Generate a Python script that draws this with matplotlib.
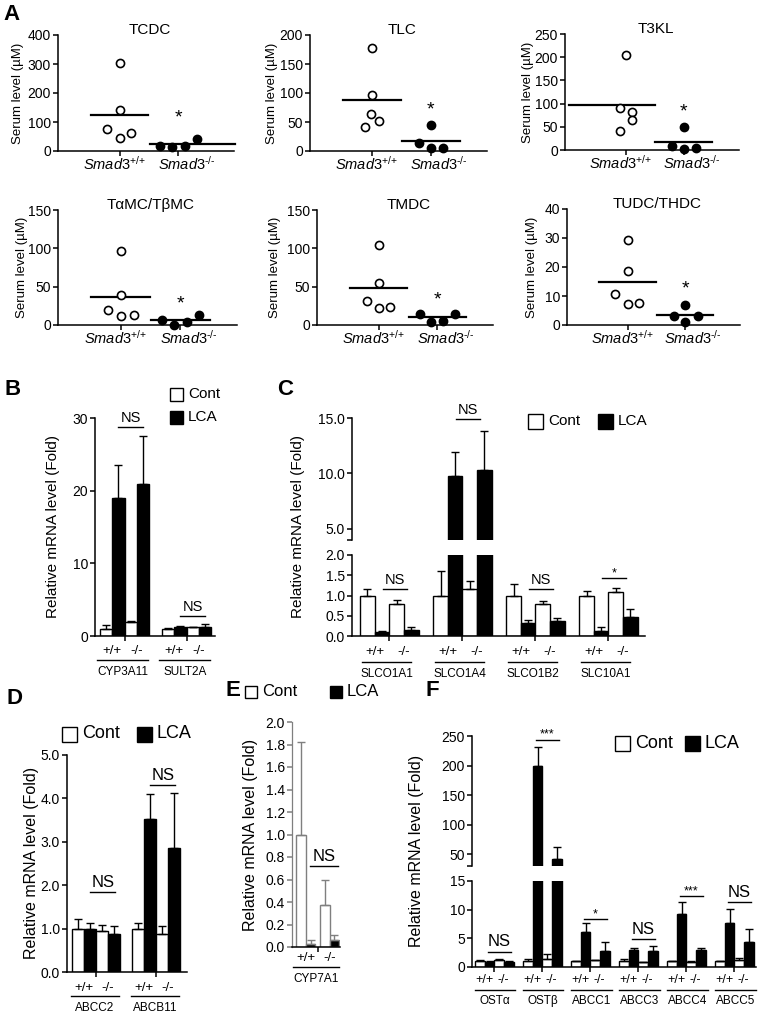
import numpy as np
import matplotlib
matplotlib.use('Agg')
import matplotlib.pyplot as plt
from matplotlib.patches import Rectangle
from matplotlib.ticker import FormatStrFormatter

plt.rcParams['font.family'] = ['Liberation Sans', 'DejaVu Sans']
plt.rcParams['mathtext.fontset'] = 'custom'
plt.rcParams['mathtext.rm'] = 'Liberation Sans'
plt.rcParams['mathtext.it'] = 'Liberation Sans:italic'
plt.rcParams['axes.linewidth'] = 1.1
plt.rcParams['xtick.major.width'] = 1.1
plt.rcParams['ytick.major.width'] = 1.1
plt.rcParams['xtick.major.size'] = 3.5
plt.rcParams['ytick.major.size'] = 3.5
plt.rcParams['xtick.minor.width'] = 1.1
plt.rcParams['ytick.minor.width'] = 1.1
plt.rcParams['ytick.minor.size'] = 3.5

# ---------------- data ----------------
# A: serum bile acids (uM), Smad3+/+ (open) vs Smad3-/- (filled)
a_names = ['TCDC', 'TLC', 'T3KL', 'T\u03b1MC/T\u03b2MC', 'TMDC', 'TUDC/THDC']
a_wt = [[305, 141, 75, 46, 61], [178, 97, 64, 41, 51], [204, 90, 81, 64, 40],
        [97, 39, 19, 12, 13], [104, 55, 31, 22, 23], [29.2, 18.5, 10.8, 7.4, 7.6]]
a_ko = [[17, 13, 17, 43], [45, 13, 6, 6], [50, 9, 2, 4],
        [6, 0.5, 3.5, 12.6], [14, 3.5, 5.6, 14.7], [7, 3, 3, 1]]
a_wt_mean = [124, 88, 96, 36, 48, 14.7]
a_ko_mean = [23, 17, 17, 6, 10, 3.6]
a_ymax = [400, 200, 250, 150, 150, 40]
a_ystep = [100, 50, 50, 50, 50, 10]
a_star = [113, 70, 81, 28, 33, 12.4]
a_groups = ['$\\mathit{Smad3}^{\\text{+/+}}$', '$\\mathit{Smad3}^{\\text{-/-}}$']
# horizontal scatter offsets of the points (layout only)
a_wt_dx = [[0, 0, -0.21, 0, 0.2], [0, 0, -0.02, -0.12, 0.12], [0, -0.1, 0.1, 0.1, -0.1],
           [0, 0, -0.21, 0, 0.22], [0, 0, -0.2, 0, 0.2], [0, 0, -0.21, 0, 0.2]]
a_ko_dx = [[-0.31, -0.1, 0.12, 0.32], [0, -0.2, 0, 0.2], [0, -0.2, 0, 0.2],
           [-0.3, -0.1, 0.11, 0.32], [-0.3, -0.1, 0.1, 0.3], [0, -0.2, 0.23, 0]]

# bar panels: order per gene = WT Cont, WT LCA, KO Cont, KO LCA
b_genes = ['CYP3A11', 'SULT2A']
b_mean = [[1.0, 19.0, 1.93, 20.96], [1.0, 1.3, 1.2, 1.2]]
b_err = [[0.56, 4.6, 0.13, 6.5], [0.1, 0.1, 0.05, 0.4]]
b_sig = ['NS', 'NS']
b_sig_y = [28.7, 2.75]

c_genes = ['SLCO1A1', 'SLCO1A4', 'SLCO1B2', 'SLC10A1']
c_mean = [[0.99, 0.1, 0.79, 0.16], [1.0, 9.8, 1.15, 10.3], [1.0, 0.32, 0.78, 0.37], [1.0, 0.12, 1.09, 0.47]]
c_err = [[0.18, 0.02, 0.09, 0.05], [0.6, 2.1, 0.2, 3.5], [0.28, 0.07, 0.08, 0.08], [0.11, 0.09, 0.1, 0.19]]
c_sig = ['NS', 'NS', 'NS', '*']
c_sig_y = [1.15, 14.9, 1.15, 1.42]

d_genes = ['ABCC2', 'ABCB11']
d_mean = [[1.0, 1.0, 0.95, 0.88], [1.0, 3.52, 0.88, 2.85]]
d_err = [[0.23, 0.12, 0.13, 0.17], [0.13, 0.57, 0.17, 1.28]]
d_sig = ['NS', 'NS']
d_sig_y = [1.85, 4.3]

e_genes = ['CYP7A1']
e_mean = [[1.0, 0.024, 0.37, 0.06]]
e_err = [[0.82, 0.035, 0.23, 0.045]]
e_sig = ['NS']
e_sig_y = [0.72]

f_genes = ['OST\u03b1', 'OST\u03b2', 'ABCC1', 'ABCC3', 'ABCC4', 'ABCC5']
f_mean = [[1.0, 0.9, 1.2, 0.9], [1.1, 200, 1.4, 41.5], [1.0, 6.1, 1.2, 2.8],
          [1.0, 3.0, 0.8, 2.8], [1.0, 9.2, 0.9, 3.0], [1.0, 7.6, 1.3, 4.4]]
f_err = [[0.2, 0.1, 0.2, 0.1], [0.3, 32, 0.8, 21], [0.1, 1.55, 0.1, 1.6],
         [0.4, 0.4, 0.1, 0.8], [0.1, 2.2, 0.1, 0.4], [0.1, 2.5, 0.2, 2.3]]
f_sig = ['NS', '***', '*', 'NS', '***', 'NS']
f_sig_y = [2.7, 244, 8.4, 4.85, 12.4, 11.4]

# ---------------- figure ----------------
W, H = 761, 1014
fig = plt.figure(figsize=(W / 100, H / 100), dpi=100)


def ax_px(x0, y0, x1, y1):
    return fig.add_axes([x0 / W, 1 - y1 / H, (x1 - x0) / W, (y1 - y0) / H])


def ftext(x, y, s, **kw):
    fig.text(x / W, 1 - y / H, s, **kw)


def legend_sq(x, y, size, fill, label, fs=11, edge='black'):
    fig.patches.append(Rectangle((x / W, 1 - (y + size / 2) / H), size / W, size / H,
                                 facecolor=fill, edgecolor=edge, lw=1.0, transform=fig.transFigure))
    ftext(x + size + 5, y, label, fontsize=fs, ha='left', va='center')


def clean(ax):
    ax.spines['top'].set_visible(False)
    ax.spines['right'].set_visible(False)
    ax.tick_params(direction='out', labelsize=10, pad=1.5)


# panel A
a_boxes = [(58, 35, 234, 151), (310, 35, 487, 151), (565, 34, 739, 150),
           (58, 210, 237, 325), (317, 210, 493, 325), (567, 209, 740, 325)]
a_ylab_x = [18, 272, 528, 22, 275, 532]
a_span = [[(-0.49, 0.49), (-0.49, 0.97)], [(-0.49, 0.49), (-0.49, 0.49)], [(-0.98, 0.5), (-0.49, 0.49)],
          [(-0.49, 0.49), (-0.49, 0.49)], [(-0.49, 0.49), (-0.49, 0.49)], [(-0.49, 0.49), (-0.49, 0.49)]]
for i in range(6):
    x0, y0, x1, y1 = a_boxes[i]
    ax = ax_px(x0, y0, x1, y1)
    clean(ax)
    ax.set_xlim(-0.05, 2.95)
    ax.set_ylim(0, a_ymax[i])
    ax.set_yticks(np.arange(0, a_ymax[i] + 1, a_ystep[i]))
    ax.set_xticks([1, 2])
    ax.set_xticklabels([])
    tr = ax.get_xaxis_transform()
    h = y1 - y0
    ax.text(1 - 0.09, -13 / h, a_groups[0], transform=tr, ha='center', va='center', fontsize=10.5)
    ax.text(2 + 0.14, -13 / h, a_groups[1], transform=tr, ha='center', va='center', fontsize=10.5)
    ax.scatter(1 + np.array(a_wt_dx[i]), a_wt[i], s=34, facecolor='white', edgecolor='black',
               linewidth=1.2, zorder=3, clip_on=False)
    ax.scatter(2 + np.array(a_ko_dx[i]), a_ko[i], s=34, facecolor='black', edgecolor='black',
               linewidth=1.2, zorder=3, clip_on=False)
    (l0, r0), (l1, r1) = a_span[i]
    ax.plot([1 + l0, 1 + r0], [a_wt_mean[i]] * 2, color='black', lw=1.6, zorder=2)
    ax.plot([2 + l1, 2 + r1], [a_ko_mean[i]] * 2, color='black', lw=1.6, zorder=2, clip_on=False)
    ax.text(2, a_star[i], '*', ha='center', va='center', fontsize=14)
    ax.text(0.52, 1.04, a_names[i], transform=ax.transAxes, ha='center', va='center', fontsize=11)
    ftext(a_ylab_x[i], (y0 + y1) / 2, 'Serum level (\u00b5M)', rotation=90, ha='center', va='center',
          fontsize=9.5)


def draw_bars(ax, means, errs, pos=(0, 1, 2, 3), edge='black', errc='black'):
    for g in range(len(means)):
        x = g * 5 + np.array(pos)
        ax.bar(x, means[g], width=1.0, color=['white', 'black', 'white', 'black'],
               edgecolor=edge, linewidth=1.0, zorder=2)
        ax.errorbar(x, means[g], yerr=[np.zeros(4), errs[g]], fmt='none', ecolor=errc,
                    elinewidth=1.0, capsize=3, capthick=1.0, zorder=3)


def sig_marks(ax, sig, sig_y, groups, span, fs=10.5):
    for g, txt, y in zip(groups, sig, sig_y):
        xa, xb = g * 5 + span[0], g * 5 + span[1]
        ax.plot([xa, xb], [y, y], color='black', lw=1.0, clip_on=False)
        size = 9 if '*' in txt else fs
        ax.annotate(txt, xy=((xa + xb) / 2, y), xytext=(0, 1.5 if '*' not in txt else -1),
                    textcoords='offset points', ha='center', va='bottom', fontsize=size,
                    annotation_clip=False)


def geno_labels(ax, genes, offs, wt=0.5, ko=2.5, span=(-0.5, 3.4), fs1=9, fs2=8):
    h = ax.bbox.height
    tr = ax.get_xaxis_transform()
    for g, name in enumerate(genes):
        ax.text(g * 5 + wt, -offs[0] / h, '+/+', transform=tr, ha='center', va='center', fontsize=fs1)
        ax.text(g * 5 + ko, -offs[0] / h, '-/-', transform=tr, ha='center', va='center', fontsize=fs1)
        ax.plot([g * 5 + span[0], g * 5 + span[1]], [-offs[1] / h] * 2, transform=tr,
                color='black', lw=1.0, clip_on=False)
        ax.text(g * 5 + (span[0] + span[1]) / 2, -offs[2] / h, name, transform=tr, ha='center',
                va='center', fontsize=fs2)


def group_ticks(ax, n, at=1.5):
    ax.set_xticks([g * 5 + at for g in range(n)])
    ax.set_xticklabels([])


# panel B
ax = ax_px(95, 418, 215, 636)
clean(ax)
draw_bars(ax, b_mean, b_err)
ax.set_xlim(-0.89, 8.79)
ax.set_ylim(0, 30)
ax.set_yticks([0, 10, 20, 30])
group_ticks(ax, 2)
sig_marks(ax, b_sig, b_sig_y, [0, 1], (1.0, 3.0))
geno_labels(ax, b_genes, (15, 24, 36), span=(-0.7, 3.4), fs1=9.5, fs2=8.5)
ftext(53, 527, 'Relative mRNA level (Fold)', rotation=90, ha='center', va='center', fontsize=11)
legend_sq(170, 394, 13, 'white', 'Cont')
legend_sq(170, 417, 13, 'black', 'LCA')

# panel C (broken axis)
axt = ax_px(352, 418, 645, 540)
axb = ax_px(352, 555, 645, 636)
for a in (axt, axb):
    clean(a)
    draw_bars(a, c_mean, c_err)
    a.set_xlim(-1.06, 19.0)
    a.yaxis.set_major_formatter(FormatStrFormatter('%.1f'))
axt.set_ylim(4, 15)
axt.set_yticks([5, 10, 15])
axt.set_yticks([4], minor=True)
axt.spines['bottom'].set_visible(False)
axt.tick_params(axis='x', bottom=False, labelbottom=False)
axb.set_ylim(0, 2)
axb.set_yticks([0, 0.5, 1.0, 1.5, 2.0])
group_ticks(axb, 4)
sig_marks(axb, [c_sig[0], c_sig[2], c_sig[3]], [c_sig_y[0], c_sig_y[2], c_sig_y[3]], [0, 2, 3], (1.05, 2.7))
sig_marks(axt, [c_sig[1]], [c_sig_y[1]], [1], (1.05, 2.7))
geno_labels(axb, c_genes, (16, 26, 38), span=(-0.35, 3.0), fs1=9.5, fs2=8.5)
ftext(298, 527, 'Relative mRNA level (Fold)', rotation=90, ha='center', va='center', fontsize=11)
legend_sq(528, 421, 15, 'white', 'Cont')
legend_sq(598, 421, 15, 'black', 'LCA')

# panel D
ax = ax_px(67, 755, 187, 972)
clean(ax)
draw_bars(ax, d_mean, d_err)
ax.set_xlim(-0.92, 9.08)
ax.set_ylim(0, 5)
ax.set_yticks([0, 1, 2, 3, 4, 5])
ax.yaxis.set_major_formatter(FormatStrFormatter('%.1f'))
group_ticks(ax, 2)
sig_marks(ax, d_sig, d_sig_y, [0, 1], (1.0, 3.1), fs=12)
geno_labels(ax, d_genes, (16, 24, 36), span=(-0.6, 3.4), fs1=9.5, fs2=8.5)
ftext(32, 863, 'Relative mRNA level (Fold)', rotation=90, ha='center', va='center', fontsize=11.5)
legend_sq(62, 734, 15, 'white', 'Cont', fs=13)
legend_sq(137, 734, 15, 'black', 'LCA', fs=13)

# panel E
ax = ax_px(292, 722, 340, 947)
clean(ax)
draw_bars(ax, e_mean, e_err, pos=(0, 1, 2.5, 3.5), edge='#7f7f7f', errc='#7f7f7f')
ax.set_xlim(-0.95, 4.1)
ax.set_ylim(0, 2)
ax.set_yticks(np.arange(0, 2.01, 0.2))
ax.yaxis.set_major_formatter(FormatStrFormatter('%.1f'))
ax.spines['left'].set_color('#7f7f7f')
ax.spines['left'].set_linewidth(0.9)
ax.tick_params(axis='y', color='#7f7f7f')
group_ticks(ax, 1, at=1.75)
sig_marks(ax, e_sig, e_sig_y, [0], (0.95, 3.9), fs=12)
geno_labels(ax, e_genes, (11, 20, 32), wt=0.5, ko=3.0, span=(-0.85, 4.0), fs1=9.5, fs2=8.5)
ftext(250, 835, 'Relative mRNA level (Fold)', rotation=90, ha='center', va='center', fontsize=11.5)
legend_sq(245, 692, 12, 'white', 'Cont', fs=12)
legend_sq(330, 692, 12, 'black', 'LCA', fs=12)

# panel F (broken axis)
axt = ax_px(472, 736, 756, 866)
axb = ax_px(472, 881, 756, 967)
for a in (axt, axb):
    clean(a)
    draw_bars(a, f_mean, f_err)
    a.set_xlim(-0.83, 28.75)
axt.set_ylim(29.7, 250)
axt.set_yticks([50, 100, 150, 200, 250])
axt.set_yticks([29.7], minor=True)
axt.spines['bottom'].set_visible(False)
axt.tick_params(axis='x', bottom=False, labelbottom=False)
axb.set_ylim(0, 15)
axb.set_yticks([0, 5, 10, 15])
group_ticks(axb, 6)
sig_marks(axb, [f_sig[i] for i in (0, 2, 3, 4, 5)], [f_sig_y[i] for i in (0, 2, 3, 4, 5)],
          [0, 2, 3, 4, 5], (0.8, 3.2), fs=12)
sig_marks(axt, [f_sig[1]], [f_sig_y[1]], [1], (0.8, 3.2))
geno_labels(axb, f_genes, (13, 23, 34), wt=0.45, ko=2.4, span=(-0.5, 3.7), fs1=9, fs2=8.5)
ftext(417, 851, 'Relative mRNA level (Fold)', rotation=90, ha='center', va='center', fontsize=11.5)
legend_sq(615, 743, 15, 'white', 'Cont', fs=13)
legend_sq(685, 743, 15, 'black', 'LCA', fs=13)

# panel letters
for lab, (x, y) in zip('ABCDEF', [(12, 14), (13, 389), (285, 389), (14, 699), (233, 690), (432, 690)]):
    ftext(x, y, lab, fontsize=16, fontweight='bold', ha='center', va='center')

fig.savefig('out.png', dpi=100)
